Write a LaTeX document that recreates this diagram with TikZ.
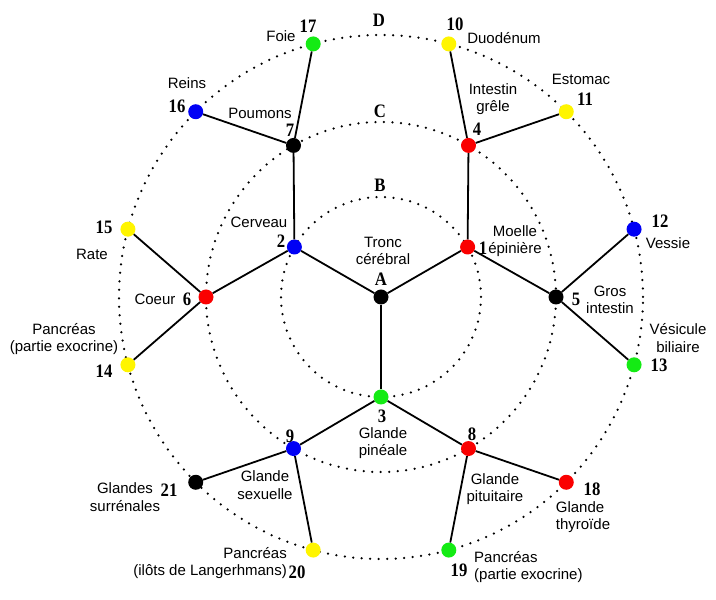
\documentclass[tikz,border=0pt]{standalone}
\usepackage{fontspec}
\setmainfont{Liberation Sans}
\newfontfamily\numfont[FakeStretch=0.88]{Liberation Serif}
\definecolor{dred}{RGB}{250,0,0}
\definecolor{dblue}{RGB}{0,0,245}
\definecolor{dgreen}{RGB}{20,235,20}
\definecolor{dyellow}{RGB}{255,245,0}
\begin{document}
\begin{tikzpicture}[x=1pt,y=1pt,
  dot/.style={circle, inner sep=0pt, minimum size=15pt, draw=none},
  link/.style={line width=1.8pt, black},
  ring/.style={line width=2.5pt, dash pattern=on 0pt off 8.5pt, line cap=round},
  txt/.style={font=\fontsize{15}{17.5}\selectfont, align=center, inner sep=0pt},
  num/.style={font=\fontsize{19}{19}\numfont\bfseries, inner sep=0pt},
  ltr/.style={font=\fontsize{19}{19}\numfont\bfseries, inner sep=0pt}]
\useasboundingbox (0,0) rectangle (716,600);
\fill[white] (0,0) rectangle (716,600);
\begin{scope}[shift={(381,303)}]
  \draw[ring] (0,0) circle (100pt);
  \draw[ring] (0,0) circle (175pt);
  \draw[ring] (0,0) circle (262pt);
  % centre and ring B
  \node[dot, fill=black] (nA) at (0,0) {};
  \node[dot, fill=dred] (n1) at (30:100pt) {};
  \node[dot, fill=dblue] (n2) at (150:100pt) {};
  \node[dot, fill=dgreen] (n3) at (270:100pt) {};
  % ring C
  \node[dot, fill=dred] (n4) at (60:175pt) {};
  \node[dot, fill=black] (n5) at (0:175pt) {};
  \node[dot, fill=dred] (n6) at (180:175pt) {};
  \node[dot, fill=black] (n7) at (120:175pt) {};
  \node[dot, fill=dred] (n8) at (300:175pt) {};
  \node[dot, fill=dblue] (n9) at (240:175pt) {};
  % ring D
  \node[dot, fill=dyellow] (n10) at (75:262pt) {};
  \node[dot, fill=dyellow] (n11) at (45:262pt) {};
  \node[dot, fill=dblue] (n12) at (15:262pt) {};
  \node[dot, fill=dgreen] (n13) at (-15:262pt) {};
  \node[dot, fill=dyellow] (n14) at (195:262pt) {};
  \node[dot, fill=dyellow] (n15) at (165:262pt) {};
  \node[dot, fill=dblue] (n16) at (135:262pt) {};
  \node[dot, fill=dgreen] (n17) at (105:262pt) {};
  \node[dot, fill=dred] (n18) at (-45:262pt) {};
  \node[dot, fill=dgreen] (n19) at (-75:262pt) {};
  \node[dot, fill=dyellow] (n20) at (-105:262pt) {};
  \node[dot, fill=black] (n21) at (-135:262pt) {};
\end{scope}
% connectors
\draw[link] (nA) -- (n1);
\draw[link] (nA) -- (n2);
\draw[link] (nA) -- (n3);
\draw[link] (n1) -- (n4);
\draw[link] (n1) -- (n5);
\draw[link] (n2) -- (n6);
\draw[link] (n2) -- (n7);
\draw[link] (n3) -- (n8);
\draw[link] (n3) -- (n9);
\draw[link] (n4) -- (n10);
\draw[link] (n4) -- (n11);
\draw[link] (n5) -- (n12);
\draw[link] (n5) -- (n13);
\draw[link] (n6) -- (n14);
\draw[link] (n6) -- (n15);
\draw[link] (n7) -- (n16);
\draw[link] (n7) -- (n17);
\draw[link] (n8) -- (n18);
\draw[link] (n8) -- (n19);
\draw[link] (n9) -- (n20);
\draw[link] (n9) -- (n21);
% ring letters
\node[ltr] (lD) at (379,580) {D};
\node[ltr] (lC) at (380,489) {C};
\node[ltr] (lB) at (380,415) {B};
\node[ltr] (lA) at (381,321) {A};
% numbers
\node[num] (k1) at (483,352) {1};
\node[num] (k2) at (281,359) {2};
\node[num] (k3) at (382,184) {3};
\node[num] (k4) at (477,471) {4};
\node[num] (k5) at (576,301) {5};
\node[num] (k6) at (187,301) {6};
\node[num] (k7) at (290,470) {7};
\node[num] (k8) at (472,166) {8};
\node[num] (k9) at (290,164) {9};
\node[num] (k10) at (455,576) {10};
\node[num] (k11) at (585,501) {11};
\node[num] (k12) at (660,379) {12};
\node[num] (k13) at (659,235) {13};
\node[num] (k14) at (104,229) {14};
\node[num] (k15) at (104,373) {15};
\node[num] (k16) at (177,494) {16};
\node[num] (k17) at (308,574) {17};
\node[num] (k18) at (592,111) {18};
\node[num] (k19) at (459,30) {19};
\node[num] (k20) at (297,28) {20};
\node[num] (k21) at (169,110) {21};
% names
\node[txt] (tA) at (383,349) {Tronc\\cérébral};
\node[txt] (t1) at (515,359) {Moelle\\épinière};
\node[txt] (t2) at (259,378) {Cerveau};
\node[txt] (t3) at (383,157) {Glande\\pinéale};
\node[txt] (t4) at (493,501) {Intestin\\grêle};
\node[txt] (t5) at (610,300) {Gros\\intestin};
\node[txt] (t6) at (155,301) {Coeur};
\node[txt] (t7) at (260,487) {Poumons};
\node[txt] (t8) at (495,111) {Glande\\pituitaire};
\node[txt] (t9) at (265,115) {Glande\\sexuelle};
\node[txt] (t10) at (504,562) {Duodénum};
\node[txt] (t11) at (581,521) {Estomac};
\node[txt] (t12) at (668,357) {Vessie};
\node[txt] (t13) at (678,262) {Vésicule\\biliaire};
\node[txt] (t14) at (64,261) {Pancréas\\(partie exocrine)};
\node[txt] (t15) at (92,346) {Rate};
\node[txt] (t16) at (187,517) {Reins};
\node[txt] (t17) at (281,564) {Foie};
\node[txt, align=left] (t18) at (583,83) {Glande\\thyroïde};
\node[txt, align=left, anchor=west] (t19) at (474,33) {Pancréas\\(partie exocrine)};
\node[txt, align=right, anchor=east] (t20) at (287,37) {Pancréas\\(ilôts de Langerhmans)};
\node[txt] (t21) at (125,103) {Glandes\\surrénales};
\end{tikzpicture}
\end{document}
